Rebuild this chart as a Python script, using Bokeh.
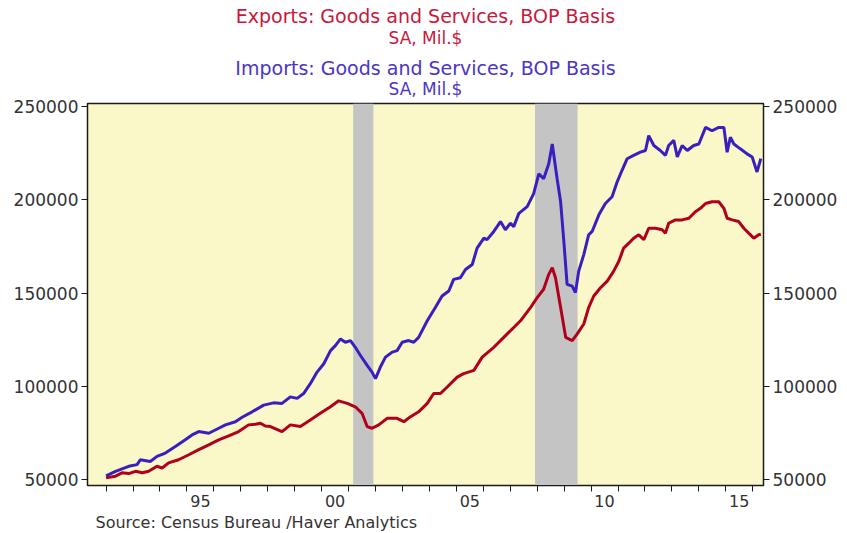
from bokeh.plotting import figure
from bokeh.models import (LinearAxis, FixedTicker, BoxAnnotation, Title, Range1d,
                          NumeralTickFormatter)
from bokeh.embed import file_html
from bokeh.resources import INLINE

# ---------------- data ----------------
imp_dates = [1992.00, 1992.35, 1992.84, 1993.15, 1993.27, 1993.64, 1993.89, 1994.20, 1994.57, 1994.94,
             1995.19, 1995.44, 1995.81, 1996.18, 1996.43, 1996.80, 1997.05, 1997.42, 1997.85, 1998.22,
             1998.53, 1998.84, 1999.09, 1999.33, 1999.58, 1999.83, 2000.08, 2000.33, 2000.51, 2000.70,
             2000.88, 2001.07, 2001.25, 2001.44, 2001.69, 2001.87, 2002.00, 2002.18, 2002.37, 2002.62,
             2002.80, 2002.99, 2003.23, 2003.42, 2003.60, 2003.92, 2004.22, 2004.47, 2004.72, 2004.90,
             2005.15, 2005.34, 2005.59, 2005.77, 2006.02, 2006.14, 2006.39, 2006.64, 2006.82, 2007.01,
             2007.13, 2007.32, 2007.63, 2007.87, 2008.06, 2008.24, 2008.43, 2008.56, 2008.74, 2008.87,
             2008.99, 2009.11, 2009.30, 2009.42, 2009.54, 2009.73, 2009.91, 2010.04, 2010.29, 2010.53,
             2010.78, 2010.97, 2011.15, 2011.34, 2011.58, 2011.83, 2012.02, 2012.14, 2012.33, 2012.57,
             2012.76, 2012.88, 2013.07, 2013.20, 2013.38, 2013.57, 2013.81, 2014.00, 2014.25, 2014.49,
             2014.74, 2014.93, 2015.05, 2015.17, 2015.30, 2015.54, 2015.79, 2015.98, 2016.16, 2016.30]
imp_values = [52000, 54400, 57100, 58000, 60600, 59700, 62400, 64200, 67700, 71300,
              73900, 75700, 74800, 77500, 79300, 81000, 83400, 86300, 89900, 91100,
              90800, 94300, 93500, 96100, 101400, 107600, 112100, 119100, 121800, 125400,
              123600, 124500, 120900, 116500, 111200, 107600, 104100, 110300, 115600, 118300,
              119100, 123600, 124500, 123600, 126200, 135100, 142200, 148400, 151100, 157300,
              158200, 162600, 165300, 174100, 179400, 178600, 183000, 188300, 183900, 187400,
              185600, 192700, 196300, 203300, 213900, 211300, 219300, 229900, 211300, 198900,
              177700, 154600, 153700, 150200, 161700, 170600, 181200, 183000, 191900, 198000,
              201600, 209600, 215800, 222000, 223800, 225500, 226400, 234400, 229100, 226400,
              223800, 229100, 231800, 222900, 229100, 226400, 229100, 229900, 238800, 237000,
              238800, 238800, 225500, 233500, 229900, 227300, 224600, 222900, 214900, 222000]

exp_dates = [1992.00, 1992.35, 1992.59, 1992.84, 1993.09, 1993.34, 1993.58, 1993.89, 1994.08, 1994.32,
             1994.69, 1995.07, 1995.44, 1995.81, 1996.18, 1996.55, 1996.92, 1997.29, 1997.54, 1997.73,
             1997.91, 1998.10, 1998.53, 1998.84, 1999.21, 1999.58, 1999.95, 2000.33, 2000.63, 2000.95,
             2001.25, 2001.50, 2001.69, 2001.87, 2002.12, 2002.43, 2002.80, 2003.05, 2003.30, 2003.60,
             2003.92, 2004.16, 2004.41, 2004.66, 2005.03, 2005.27, 2005.65, 2005.96, 2006.39, 2006.76,
             2007.13, 2007.38, 2007.75, 2008.00, 2008.24, 2008.43, 2008.56, 2008.68, 2008.87, 2009.06,
             2009.30, 2009.48, 2009.73, 2009.91, 2010.10, 2010.35, 2010.60, 2010.84, 2011.03, 2011.21,
             2011.40, 2011.58, 2011.77, 2011.96, 2012.14, 2012.39, 2012.64, 2012.76, 2012.88, 2013.13,
             2013.38, 2013.63, 2013.87, 2014.06, 2014.25, 2014.49, 2014.74, 2014.93, 2015.05, 2015.24,
             2015.48, 2015.67, 2015.85, 2016.04, 2016.22, 2016.30]
exp_values = [50900, 51800, 53600, 53200, 54400, 53600, 54400, 57100, 56200, 58900,
              60600, 63300, 66000, 68600, 71300, 73400, 75700, 79300, 79600, 80200,
              78700, 78400, 75700, 79300, 78400, 81900, 85500, 89000, 92200, 90800,
              89000, 85500, 78400, 77500, 79300, 82800, 82800, 81000, 83700, 86300,
              90800, 96100, 96100, 99600, 104900, 106800, 108500, 115600, 120900, 126200,
              131500, 135100, 142200, 147500, 152000, 160000, 163500, 158200, 142200, 126200,
              124500, 128000, 133400, 142200, 148400, 152800, 156400, 161700, 167000, 174100,
              176700, 179400, 181200, 178600, 184700, 184700, 183900, 182100, 187400, 189200,
              189200, 190100, 193600, 195400, 198000, 198900, 198900, 195400, 190100, 189200,
              188300, 184700, 182100, 179400, 181200, 181500]

recession_start = [2001.17, 2007.92]
recession_end = [2001.92, 2009.50]

y_ticks = [50000, 100000, 150000, 200000, 250000]
x_label_pos = [1995.5, 2000.5, 2005.5, 2010.5, 2015.5]
x_labels = ["95", "00", "05", "10", "15"]
year_ticks = [1992, 1993, 1994, 1995, 1996, 1997, 1998, 1999, 2000, 2001, 2002, 2003,
              2004, 2005, 2006, 2007, 2008, 2009, 2010, 2011, 2012, 2013, 2014, 2015, 2016]

# ---------------- styling ----------------
RED_T = "#C8183C"
BLUE_T = "#4A35C8"
RED_L = "#B0001C"
BLUE_L = "#3A1FC0"
FONT = "DejaVu Sans"
LBL = "#333333"

p = figure(width=847, height=533, output_backend="svg", toolbar_location=None,
           x_range=Range1d(1991.31, 2016.40), y_range=Range1d(46800, 251600),
           min_border_left=87, min_border_right=84, min_border_top=103, min_border_bottom=48,
           background_fill_color="#FAF7C8", border_fill_color="white",
           outline_line_color="#1a1a1a", outline_line_width=1.5)
p.xgrid.visible = False
p.ygrid.visible = False

for s, e in zip(recession_start, recession_end):
    p.add_layout(BoxAnnotation(left=s, right=e, fill_color="#C4C4C4", fill_alpha=1.0,
                               line_color=None, level="underlay"))

p.line(exp_dates, exp_values, line_color=RED_L, line_width=3)
p.line(imp_dates, imp_values, line_color=BLUE_L, line_width=3)

# x axis
xa = p.xaxis[0]
xa.ticker = FixedTicker(ticks=x_label_pos, minor_ticks=year_ticks)
xa.major_label_overrides = {k: v for k, v in zip(x_label_pos, x_labels)}
xa.major_tick_out = 0
xa.major_tick_in = 0
xa.minor_tick_out = 6
xa.minor_tick_in = 0
xa.minor_tick_line_color = "#1a1a1a"
xa.axis_line_color = "#1a1a1a"
xa.major_label_standoff = 3
xa.major_label_text_font = FONT
xa.major_label_text_font_size = "16px"
xa.major_label_text_color = LBL


def style_y(ax):
    ax.ticker = FixedTicker(ticks=y_ticks)
    ax.formatter = NumeralTickFormatter(format="0")
    ax.major_tick_out = 6
    ax.major_tick_in = 0
    ax.minor_tick_line_color = None
    ax.axis_line_color = "#1a1a1a"
    ax.major_tick_line_color = "#1a1a1a"
    ax.major_label_standoff = 3
    ax.major_label_text_font = FONT
    ax.major_label_text_font_size = "17px"
    ax.major_label_text_color = LBL


style_y(p.yaxis[0])
ra = LinearAxis()
style_y(ra)
p.add_layout(ra, "right")


def add_title(text, color, size, standoff):
    p.add_layout(Title(text=text, align="center", text_color=color, text_font=FONT,
                       text_font_size=size, text_font_style="normal",
                       standoff=standoff), "above")


# titles (added nearest-first); one tiny blank spacer between the two blocks
add_title("SA, Mil.$", BLUE_T, "17px", 9.2)
add_title("Imports: Goods and Services, BOP Basis", BLUE_T, "19px", -12.1)
add_title(" ", "white", "1px", 11.9)
add_title("SA, Mil.$", RED_T, "17px", -4)
add_title("Exports: Goods and Services, BOP Basis", RED_T, "19px", 0.1)

p.add_layout(Title(text="Source:  Census Bureau /Haver Analytics", align="left", offset=8,
                   text_color=LBL, text_font=FONT, text_font_size="16px",
                   text_font_style="normal", standoff=2), "below")

open("out.html", "w").write(file_html(p, INLINE))
